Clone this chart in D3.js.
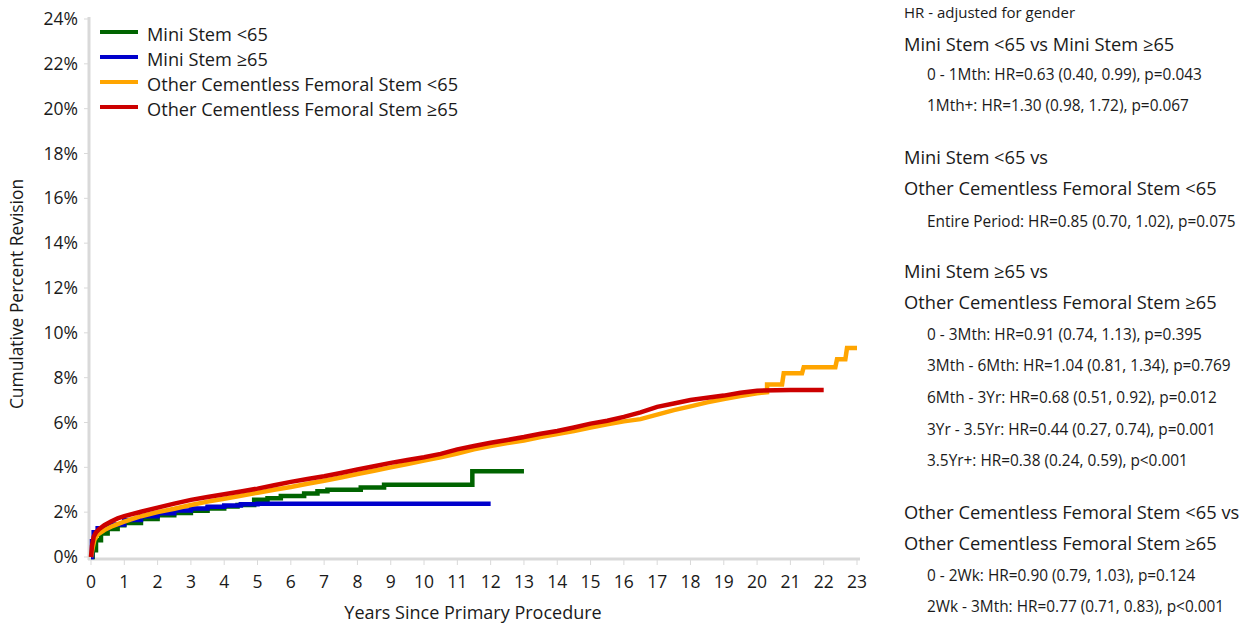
<!DOCTYPE html>
<html>
<head>
<meta charset="utf-8">
<script src="https://cdn.jsdelivr.net/npm/d3@7"></script>
<style>
  body { margin: 0; background: #fff; }
  text { font-family: "Open Sans", "Noto Sans", sans-serif; fill: #1a1a1a; }
</style>
</head>
<body>
<div id="chart"></div>
<script>
// Data (years, cumulative percent revision)
var miniU65Years = [0, 0.05, 0.15, 0.3, 0.5, 0.8, 1, 1.5, 2, 2.5, 3, 3.5, 4, 4.4, 4.9, 5.3, 5.7, 6.4, 6.8, 7.1, 8.1, 8.8, 11.45, 13];
var miniU65Pct = [0, 0.3, 0.75, 1.05, 1.25, 1.42, 1.52, 1.7, 1.86, 1.96, 2.06, 2.16, 2.25, 2.32, 2.55, 2.62, 2.72, 2.83, 2.93, 3.0, 3.1, 3.22, 3.82, 3.82];

var miniO65Years = [0, 0.03, 0.08, 0.2, 0.5, 1, 1.5, 2, 2.5, 3, 3.5, 4, 4.5, 5, 12];
var miniO65Pct = [0, 0.7, 1.1, 1.28, 1.45, 1.65, 1.82, 1.95, 2.07, 2.16, 2.24, 2.3, 2.35, 2.38, 2.38];

var otherU65Years = [0, 0.05, 0.1, 0.2, 0.4, 0.6, 0.8, 1, 1.5, 2, 2.5, 3, 3.5, 4, 4.5, 5, 5.5, 6, 6.5, 7, 7.5, 8, 8.5, 9, 9.5, 10, 10.5, 11, 11.5, 12, 12.5, 13, 13.5, 14, 14.5, 15, 15.5, 16, 16.5, 17, 17.5, 18, 18.5, 19, 19.5, 20, 20.3, 20.3, 20.75, 20.8, 21.35, 21.4, 22.35, 22.4, 22.65, 22.7, 23];
var otherU65Pct = [0, 0.4, 0.75, 1.0, 1.2, 1.35, 1.47, 1.58, 1.82, 2.0, 2.15, 2.32, 2.47, 2.6, 2.73, 2.87, 3.0, 3.12, 3.27, 3.4, 3.55, 3.7, 3.85, 4.0, 4.15, 4.3, 4.45, 4.62, 4.8, 4.95, 5.08, 5.2, 5.35, 5.48, 5.62, 5.78, 5.92, 6.05, 6.15, 6.35, 6.55, 6.72, 6.9, 7.05, 7.18, 7.3, 7.35, 7.7, 7.7, 8.2, 8.2, 8.47, 8.47, 8.82, 8.82, 9.32, 9.32];

var otherO65Years = [0, 0.03, 0.08, 0.15, 0.25, 0.4, 0.6, 0.8, 1, 1.5, 2, 2.5, 3, 3.5, 4, 4.5, 5, 5.5, 6, 6.5, 7, 7.5, 8, 8.5, 9, 9.5, 10, 10.5, 11, 11.5, 12, 12.5, 13, 13.5, 14, 14.5, 15, 15.5, 16, 16.5, 17, 17.5, 18, 18.5, 19, 19.5, 20, 21, 22];
var otherO65Pct = [0, 0.5, 0.9, 1.1, 1.25, 1.42, 1.58, 1.72, 1.82, 2.02, 2.2, 2.38, 2.55, 2.68, 2.8, 2.92, 3.05, 3.2, 3.35, 3.48, 3.6, 3.75, 3.9, 4.05, 4.2, 4.33, 4.45, 4.6, 4.8, 4.95, 5.1, 5.22, 5.35, 5.5, 5.62, 5.78, 5.95, 6.08, 6.25, 6.45, 6.7, 6.85, 7.0, 7.1, 7.2, 7.33, 7.42, 7.45, 7.45];

var seriesNames = ['Mini Stem <65', 'Mini Stem \u226565', 'Other Cementless Femoral Stem <65', 'Other Cementless Femoral Stem \u226565'];
var seriesColors = ['#006400', '#0000cc', '#ffa500', '#cc0000'];
var yTicks = [0, 2, 4, 6, 8, 10, 12, 14, 16, 18, 20, 22, 24];
var xTicks = d3.range(0, 24);

var hrLines = [
  { text: 'HR - adjusted for gender', y: 13, size: 15, indent: 0 },
  { text: 'Mini Stem <65 vs Mini Stem \u226565', y: 45, size: 18.3, indent: 0 },
  { text: '0 - 1Mth: HR=0.63 (0.40, 0.99), p=0.043', y: 75, size: 15.4, indent: 1 },
  { text: '1Mth+: HR=1.30 (0.98, 1.72), p=0.067', y: 106, size: 15.4, indent: 1 },
  { text: 'Mini Stem <65 vs', y: 158, size: 18.3, indent: 0 },
  { text: 'Other Cementless Femoral Stem <65', y: 189, size: 18.3, indent: 0 },
  { text: 'Entire Period: HR=0.85 (0.70, 1.02), p=0.075', y: 222, size: 15.4, indent: 1 },
  { text: 'Mini Stem \u226565 vs', y: 272, size: 18.3, indent: 0 },
  { text: 'Other Cementless Femoral Stem \u226565', y: 303, size: 18.3, indent: 0 },
  { text: '0 - 3Mth: HR=0.91 (0.74, 1.13), p=0.395', y: 335, size: 15.4, indent: 1 },
  { text: '3Mth - 6Mth: HR=1.04 (0.81, 1.34), p=0.769', y: 366, size: 15.4, indent: 1 },
  { text: '6Mth - 3Yr: HR=0.68 (0.51, 0.92), p=0.012', y: 398, size: 15.4, indent: 1 },
  { text: '3Yr - 3.5Yr: HR=0.44 (0.27, 0.74), p=0.001', y: 430, size: 15.4, indent: 1 },
  { text: '3.5Yr+: HR=0.38 (0.24, 0.59), p<0.001', y: 461, size: 15.4, indent: 1 },
  { text: 'Other Cementless Femoral Stem <65 vs', y: 513, size: 18.3, indent: 0 },
  { text: 'Other Cementless Femoral Stem \u226565', y: 544, size: 18.3, indent: 0 },
  { text: '0 - 2Wk: HR=0.90 (0.79, 1.03), p=0.124', y: 576, size: 15.4, indent: 1 },
  { text: '2Wk - 3Mth: HR=0.77 (0.71, 0.83), p<0.001', y: 607, size: 15.4, indent: 1 }
];

// Green / blue drawn as steps, the dense orange / red curves point to point
var series = [
  { pts: d3.zip(miniU65Years, miniU65Pct), curve: d3.curveStepAfter },
  { pts: d3.zip(miniO65Years, miniO65Pct), curve: d3.curveStepAfter },
  { pts: d3.zip(otherU65Years, otherU65Pct), curve: d3.curveLinear },
  { pts: d3.zip(otherO65Years, otherO65Pct), curve: d3.curveLinear }
];

var chart_width = 1244;
var chart_height = 625;
var svg = d3.select('#chart')
  .append('svg')
  .attr('width', chart_width)
  .attr('height', chart_height);

// Scales
var xScale = d3.scaleLinear().domain([0, 23]).range([91, 857]);
var yScale = d3.scaleLinear().domain([0, 24]).range([557, 19]);

// Axes (light grey like the original)
var axisColor = '#d9d9d9';
svg.append('line')
  .attr('x1', 89).attr('x2', 89)
  .attr('y1', yScale(24) - 2).attr('y2', 560)
  .attr('stroke', axisColor).attr('stroke-width', 3);
svg.append('line')
  .attr('x1', 88).attr('x2', 860)
  .attr('y1', 559).attr('y2', 559)
  .attr('stroke', axisColor).attr('stroke-width', 3);

svg.selectAll('.ytick')
  .data(yTicks)
  .enter()
  .append('line')
  .attr('x1', 84).attr('x2', 88)
  .attr('y1', d => yScale(d)).attr('y2', d => yScale(d))
  .attr('stroke', axisColor).attr('stroke-width', 1);

svg.selectAll('.xtick')
  .data(xTicks)
  .enter()
  .append('line')
  .attr('x1', d => xScale(d)).attr('x2', d => xScale(d))
  .attr('y1', 560).attr('y2', 565)
  .attr('stroke', axisColor).attr('stroke-width', 1);

svg.selectAll('.ylabel')
  .data(yTicks)
  .enter()
  .append('text')
  .attr('x', 78)
  .attr('y', d => yScale(d))
  .attr('dy', '0.35em')
  .attr('text-anchor', 'end')
  .style('font-size', '17.5px')
  .text(d => d + '%');

svg.selectAll('.xlabel')
  .data(xTicks)
  .enter()
  .append('text')
  .attr('x', d => xScale(d))
  .attr('y', 582)
  .attr('dy', '0.35em')
  .attr('text-anchor', 'middle')
  .style('font-size', '17.5px')
  .text(d => d);

svg.append('text')
  .attr('x', 473).attr('y', 613)
  .attr('dy', '0.35em')
  .attr('text-anchor', 'middle')
  .style('font-size', '18px')
  .text('Years Since Primary Procedure');

svg.append('text')
  .attr('transform', 'translate(17,294) rotate(-90)')
  .attr('dy', '0.35em')
  .attr('text-anchor', 'middle')
  .style('font-size', '17.4px')
  .text('Cumulative Percent Revision');

// Lines
svg.selectAll('.series')
  .data(series)
  .enter()
  .append('path')
  .attr('d', s => d3.line()
    .x(d => xScale(d[0]))
    .y(d => yScale(d[1]))
    .curve(s.curve)(s.pts))
  .attr('fill', 'none')
  .attr('stroke', (d, i) => seriesColors[i])
  .attr('stroke-width', 4.5);

// Legend
var legend = svg.selectAll('.legend')
  .data(seriesNames)
  .enter()
  .append('g')
  .attr('transform', (d, i) => 'translate(100,' + (32 + i * 25) + ')');
legend.append('line')
  .attr('x1', 0).attr('x2', 38)
  .attr('stroke', (d, i) => seriesColors[i])
  .attr('stroke-width', 4);
legend.append('text')
  .attr('x', 47)
  .attr('y', 3)
  .attr('dy', '0.35em')
  .style('font-size', '18.2px')
  .text(d => d);

// HR panel
svg.selectAll('.hr')
  .data(hrLines)
  .enter()
  .append('text')
  .attr('x', d => 904 + d.indent * 23)
  .attr('y', d => d.y)
  .attr('dy', '0.35em')
  .style('font-size', d => d.size + 'px')
  .text(d => d.text);
</script>
</body>
</html>
